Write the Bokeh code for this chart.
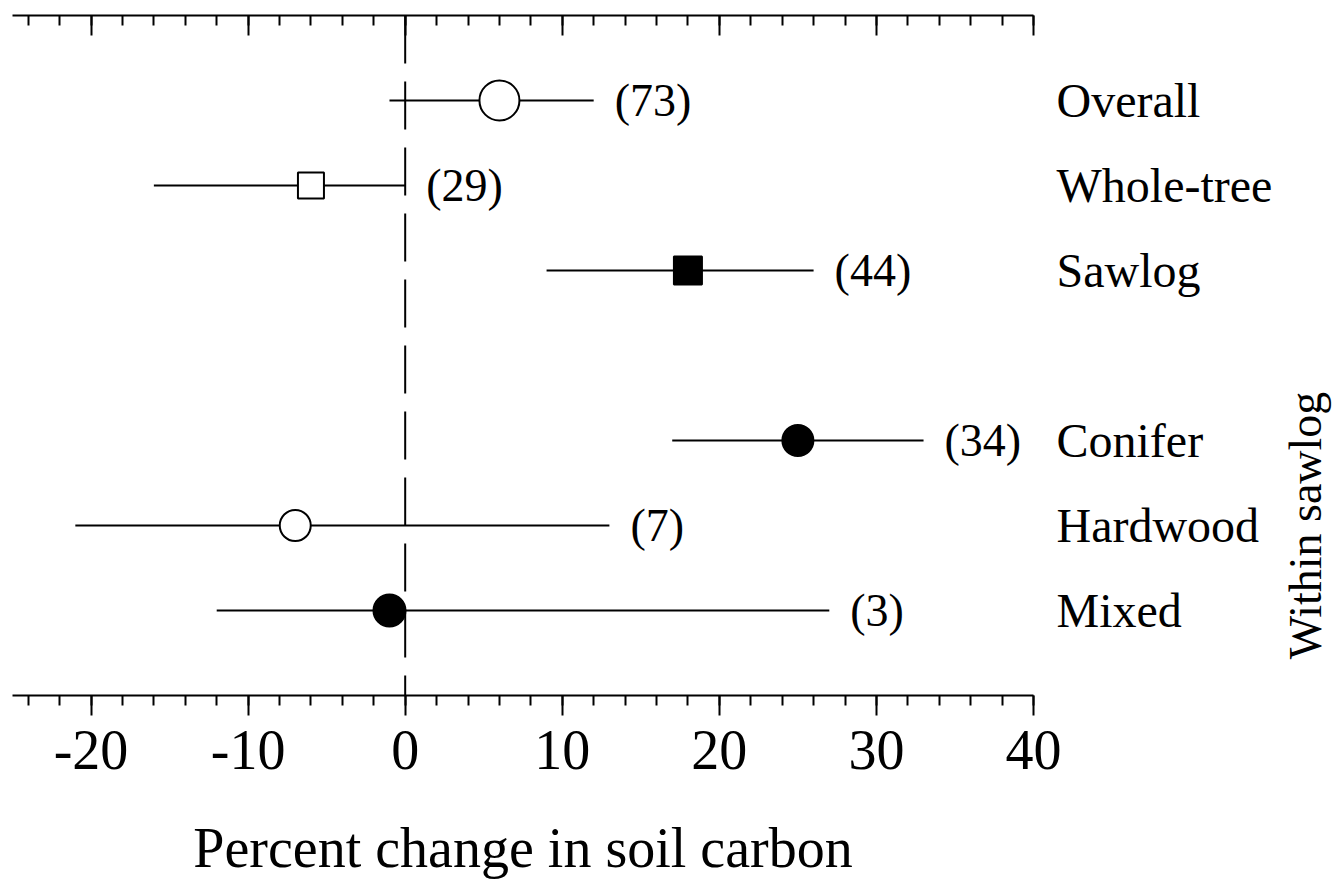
from bokeh.plotting import figure
from bokeh.layouts import row
from bokeh.models import (FactorRange, Range1d, LinearAxis, SingleIntervalTicker,
                          Span, Label, ColumnDataSource)
from bokeh.embed import file_html
from bokeh.resources import INLINE
from bokeh.core.properties import value

# ---- data ----
categories = ["Overall", "Whole-tree", "Sawlog", "Conifer", "Hardwood", "Mixed"]
means = [6, -6, 18, 25, -7, -1]
lows = [-1, -16, 9, 17, -21, -12]
highs = [12, 0, 26, 33, 13, 27]
counts = [73, 29, 44, 34, 7, 3]
group_label = "Within sawlog"
subgroup = ["Conifer", "Hardwood", "Mixed"]
x_label = "Percent change in soil carbon"
x_start, x_end = -25, 40
x_ticks = [-20, -10, 0, 10, 20, 30, 40]

# ---- styles ----
markers = ["circle", "square", "square", "circle", "circle", "circle"]
fills = ["white", "white", "black", "black", "white", "black"]
sizes = [40, 26, 28, 31, 31, 32]

FONT = "Liberation Serif"
TOP, BOTTOM = 15, 193
FRAME_H = 680

# factor order bottom->top with a blank gap between the two groups
factors = list(reversed(subgroup)) + [" "] + [c for c in reversed(categories) if c not in subgroup]
yr = FactorRange(factors=factors, range_padding=0.5, range_padding_units="absolute")

src = ColumnDataSource(dict(
    cat=categories, mean=means, lo=lows, hi=highs,
    label=["(%d)" % n for n in counts],
    marker=markers, fill=fills, size=sizes,
))

p = figure(
    frame_width=1021, frame_height=FRAME_H,
    x_range=Range1d(x_start, x_end), y_range=yr,
    y_axis_location="right",
    output_backend="svg", toolbar_location=None,
    min_border_left=12, min_border_right=240, min_border_top=TOP, min_border_bottom=BOTTOM,
    background_fill_color="white", border_fill_color="white",
)
p.outline_line_color = None
p.xgrid.grid_line_color = None
p.ygrid.grid_line_color = None

ticker = SingleIntervalTicker(interval=10, num_minor_ticks=5)

# bottom axis
xa = p.xaxis[0]
xa.ticker = ticker
xa.axis_line_width = 2
xa.major_tick_line_width = 2
xa.minor_tick_line_width = 2
xa.major_tick_out = 20
xa.major_tick_in = 0
xa.minor_tick_out = 10
xa.minor_tick_in = 0
xa.major_label_standoff = 15
xa.major_label_overrides = {t: str(t) for t in x_ticks}
xa.major_label_text_font = FONT
xa.major_label_text_font_size = "56px"
xa.major_label_text_color = "black"
xa.axis_label = x_label
xa.axis_label_text_font = FONT
xa.axis_label_text_font_style = "normal"
xa.axis_label_text_font_size = "56px"
xa.axis_label_standoff = 45
xa.axis_label_text_color = "black"

# top axis (ticks pointing inward, no labels)
top = LinearAxis(ticker=ticker, axis_line_width=2,
                 major_tick_line_width=2, minor_tick_line_width=2,
                 major_tick_in=20, major_tick_out=0,
                 minor_tick_in=10, minor_tick_out=0,
                 major_label_text_color=None, major_label_text_font_size="0px",
                 major_label_standoff=0)
p.add_layout(top, "above")

# right category axis
ya = p.yaxis[0]
ya.axis_line_color = None
ya.major_tick_line_color = None
ya.minor_tick_line_color = None
ya.major_tick_in = 0
ya.major_tick_out = 0
ya.major_label_standoff = 23
ya.major_label_text_font = FONT
ya.major_label_text_font_size = "48px"
ya.major_label_text_color = "black"

# zero reference line
p.add_layout(Span(location=0, dimension="height", line_color="black",
                  line_width=2, line_dash="48 18"))

# confidence intervals
p.segment(x0="lo", y0="cat", x1="hi", y1="cat", source=src,
          line_color="black", line_width=2)

# means
p.scatter(x="mean", y="cat", marker="marker", size="size", source=src,
          fill_color="fill", line_color="black", line_width=2)

# sample sizes
p.text(x="hi", y="cat", text="label", source=src, x_offset=21,
       text_baseline="middle", text_align="left",
       text_font=value(FONT), text_font_size="46px", text_color="black")

# side panel for the group label
side = figure(
    frame_width=59, frame_height=FRAME_H,
    x_range=Range1d(0, 1), y_range=yr,
    x_axis_type=None, y_axis_type=None,
    output_backend="svg", toolbar_location=None,
    min_border_left=0, min_border_right=0, min_border_top=TOP, min_border_bottom=BOTTOM,
    background_fill_color="white", border_fill_color="white",
)
side.outline_line_color = None
side.xgrid.grid_line_color = None
side.ygrid.grid_line_color = None
gy = sum(factors.index(c) + 0.5 for c in subgroup) / len(subgroup)
side.add_layout(Label(x=0.5, y=gy, text=group_label,
                      angle=90, angle_units="deg",
                      text_align="center", text_baseline="middle",
                      text_font=FONT, text_font_size="46px", text_color="black"))

layout = row(p, side, spacing=0)
open("out.html", "w").write(file_html(layout, INLINE))
